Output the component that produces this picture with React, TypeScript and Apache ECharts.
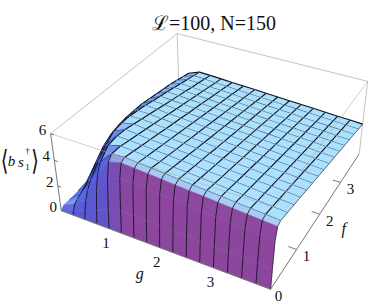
import React, { useEffect, useRef } from "react";
import * as echarts from "echarts";

const W = 382;
const H = 307;

const gVals = [0, 0.25, 0.5, 0.75, 1, 1.25, 1.5, 1.75, 2, 2.25, 2.5, 2.75, 3, 3.25, 3.5, 3.75, 4];
const fVals = [0, 0.03, 0.08, 0.15, 0.25, 0.5, 0.75, 1, 1.25, 1.5, 1.75, 2, 2.25, 2.5, 2.75, 3, 3.25, 3.5, 3.75, 4];
const meshF = [0.25, 0.5, 0.75, 1, 1.25, 1.5, 1.75, 2, 2.25, 2.5, 2.75, 3, 3.25, 3.5, 3.75];

// surface height, one row per fVals entry, one column per gVals entry
const zRows = [
  [0, 0, 0, 0, 0, 0, 0, 0, 0, 0, 0, 0, 0, 0, 0, 0, 0],
  [0.1, 0.3, 0.6, 1.0, 1.5, 1.72, 1.69, 1.67, 1.65, 1.62, 1.6, 1.57, 1.55, 1.52, 1.5, 1.48, 1.45],
  [0.25, 0.7, 1.3, 2.4, 3.6, 4.06, 4.0, 3.95, 3.89, 3.83, 3.78, 3.72, 3.66, 3.6, 3.55, 3.49, 3.43],
  [0.25, 0.85, 1.9, 3.5, 4.8, 5.05, 4.98, 4.91, 4.84, 4.76, 4.69, 4.63, 4.55, 4.48, 4.41, 4.34, 4.27],
  [0.25, 1.0, 2.4, 4.2, 5.15, 5.21, 5.13, 5.06, 4.99, 4.91, 4.84, 4.77, 4.69, 4.62, 4.55, 4.47, 4.4],
  [0.3, 1.5, 3.3, 4.9, 5.14, 5.07, 4.99, 4.92, 4.85, 4.78, 4.71, 4.64, 4.57, 4.49, 4.42, 4.35, 4.28],
  [0.4, 2.3, 4.0, 5.0, 4.99, 4.92, 4.85, 4.78, 4.71, 4.64, 4.57, 4.5, 4.43, 4.36, 4.29, 4.22, 4.15],
  [0.5, 3.0, 4.5, 4.95, 4.85, 4.78, 4.71, 4.64, 4.58, 4.51, 4.44, 4.37, 4.3, 4.23, 4.17, 4.1, 4.03],
  [0.6, 3.4, 4.6, 4.8, 4.71, 4.64, 4.57, 4.51, 4.44, 4.38, 4.31, 4.24, 4.18, 4.11, 4.04, 3.98, 3.91],
  [0.6, 3.6, 4.6, 4.65, 4.56, 4.49, 4.43, 4.36, 4.3, 4.23, 4.17, 4.1, 4.04, 3.97, 3.91, 3.85, 3.78],
  [0.6, 3.7, 4.5, 4.5, 4.42, 4.35, 4.29, 4.23, 4.16, 4.1, 4.04, 3.98, 3.91, 3.85, 3.79, 3.72, 3.66],
  [0.6, 3.7, 4.38, 4.34, 4.27, 4.21, 4.15, 4.09, 4.03, 3.97, 3.91, 3.85, 3.78, 3.72, 3.66, 3.6, 3.54],
  [0.6, 3.7, 4.23, 4.18, 4.12, 4.06, 4.01, 3.95, 3.89, 3.83, 3.77, 3.71, 3.65, 3.59, 3.53, 3.47, 3.41],
  [0.6, 3.6, 4.08, 4.04, 3.98, 3.93, 3.87, 3.81, 3.75, 3.69, 3.64, 3.58, 3.52, 3.46, 3.41, 3.35, 3.29],
  [0.6, 3.5, 3.95, 3.9, 3.84, 3.79, 3.73, 3.67, 3.62, 3.56, 3.51, 3.45, 3.39, 3.34, 3.28, 3.23, 3.17],
  [0.6, 3.4, 3.8, 3.75, 3.69, 3.64, 3.58, 3.53, 3.48, 3.42, 3.37, 3.31, 3.26, 3.2, 3.15, 3.09, 3.04],
  [0.6, 3.3, 3.65, 3.6, 3.55, 3.5, 3.45, 3.39, 3.34, 3.29, 3.24, 3.18, 3.13, 3.08, 3.03, 2.97, 2.92],
  [0.6, 3.15, 3.5, 3.46, 3.41, 3.36, 3.31, 3.26, 3.21, 3.16, 3.11, 3.06, 3.0, 2.95, 2.9, 2.85, 2.8],
  [0.6, 3.0, 3.35, 3.31, 3.26, 3.21, 3.16, 3.11, 3.06, 3.01, 2.96, 2.92, 2.87, 2.82, 2.77, 2.72, 2.67],
  [0.6, 2.85, 3.2, 3.17, 3.12, 3.07, 3.02, 2.98, 2.93, 2.88, 2.83, 2.79, 2.74, 2.69, 2.64, 2.6, 2.55],
];

const gTicks = [1, 2, 3];
const fTicks = [1, 2, 3];
const zTicks = [0, 2, 4, 6];
const G_MAX = 4;
const F_MAX = 4;
const Z_MAX = 6;

// calibration of the 3D box: [g, f, z, screen x, screen y]
const boxCalibration = [
  [0, 0, 0, 62, 210],
  [4, 0, 0, 270, 291],
  [4, 4, 0, 359, 153],
  [0, 0, 6, 50, 135],
  [0, 4, 6, 177, 33],
  [4, 4, 6, 368, 83],
  [4, 0, 6, 275, 205],
];

function solve(A: number[][], b: number[]) {
  const n = b.length;
  const M = A.map((r, i) => [...r, b[i]]);
  for (let c = 0; c < n; c++) {
    let p = c;
    for (let r = c + 1; r < n; r++) if (Math.abs(M[r][c]) > Math.abs(M[p][c])) p = r;
    [M[c], M[p]] = [M[p], M[c]];
    for (let r = 0; r < n; r++) {
      if (r === c) continue;
      const k = M[r][c] / M[c][c];
      for (let j = c; j <= n; j++) M[r][j] -= k * M[c][j];
    }
  }
  return M.map((r, i) => r[n] / r[i]);
}

function fitCamera() {
  const rows: number[][] = [];
  const rhs: number[] = [];
  for (const [g, f, z, u, v] of boxCalibration) {
    const X = g / G_MAX, Y = f / F_MAX, Z = z / Z_MAX;
    const a = u / 100, b = v / 100;
    rows.push([X, Y, Z, 1, 0, 0, 0, 0, -a * X, -a * Y, -a * Z]);
    rhs.push(a);
    rows.push([0, 0, 0, 0, X, Y, Z, 1, -b * X, -b * Y, -b * Z]);
    rhs.push(b);
  }
  const N = 11;
  const AtA = Array.from({ length: N }, (_, i) =>
    Array.from({ length: N }, (_, j) => rows.reduce((s, r) => s + r[i] * r[j], 0))
  );
  const Atb = Array.from({ length: N }, (_, i) => rows.reduce((s, r, k) => s + r[i] * rhs[k], 0));
  return solve(AtA, Atb);
}
const cam = fitCamera();

function project(g: number, f: number, z: number): [number, number] {
  const X = g / G_MAX, Y = f / F_MAX, Z = z / Z_MAX;
  const w = cam[8] * X + cam[9] * Y + cam[10] * Z + 1;
  return [
    (100 * (cam[0] * X + cam[1] * Y + cam[2] * Z + cam[3])) / w,
    (100 * (cam[4] * X + cam[5] * Y + cam[6] * Z + cam[7])) / w,
  ];
}

const TOP = [172, 224, 255];
const FRONT = [140, 70, 158];
const LEFT = [72, 92, 232];
// how far the front wall leans towards the blue side, per g column
const wallTint = [0.75, 0.75, 0.7, 0.6, 0.3, 0.05];

function shade(ig: number, jf: number) {
  const dg = (gVals[ig + 1] - gVals[ig]) / G_MAX;
  const df = (fVals[jf + 1] - fVals[jf]) / F_MAX;
  const zAt = (i: number, j: number) => (zRows[j][i] / Z_MAX) * 0.45;
  const zg = (zAt(ig + 1, jf) + zAt(ig + 1, jf + 1) - zAt(ig, jf) - zAt(ig, jf + 1)) / (2 * dg);
  const zf = (zAt(ig, jf + 1) + zAt(ig + 1, jf + 1) - zAt(ig, jf) - zAt(ig + 1, jf)) / (2 * df);
  const len = Math.hypot(zg, zf, 1);
  const top = 1 / len;
  const left = Math.max(0, zg / len);
  const front = Math.max(0, zf / len);
  const wTop = Math.pow(top, 3);
  const wFront = Math.max(0, front * front - 0.03);
  const wLeft = Math.max(0, left * left - 0.01) * 2;
  const sum = wTop + wFront + wLeft || 1;
  const t = wallTint[ig] ?? 0;
  const c = [0, 1, 2].map((k) => {
    const wall = FRONT[k] * (1 - t) + LEFT[k] * t;
    return Math.round((TOP[k] * wTop + wall * wFront + LEFT[k] * wLeft) / sum);
  });
  return `rgb(${c[0]},${c[1]},${c[2]})`;
}

const cells: number[][] = [];
for (let j = fVals.length - 2; j >= 0; j--) {
  for (let i = 0; i < gVals.length - 1; i++) cells.push([i, j]);
}

const isMeshF = (f: number) => meshF.includes(f);

export default function App() {
  const ref = useRef<HTMLDivElement>(null);
  useEffect(() => {
    document.body.style.margin = "0";
    const chart = echarts.init(ref.current!, undefined, { renderer: "svg" });
    const serif = "'Liberation Serif', 'DejaVu Serif', serif";

    const lineEl = (api: any, a: number[], b: number[], stroke: string, lineWidth = 1, opacity = 1) => {
      const p = api.coord(project(a[0], a[1], a[2]));
      const q = api.coord(project(b[0], b[1], b[2]));
      return {
        type: "line",
        shape: { x1: p[0], y1: p[1], x2: q[0], y2: q[1] },
        style: { stroke, lineWidth, opacity },
        silent: true,
      };
    };

    const backEdges = [
      [[0, 0, 6], [0, 4, 6]],
      [[0, 4, 6], [4, 4, 6]],
      [[0, 4, 0], [0, 4, 6]],
      [[4, 4, 0], [4, 4, 6]],
    ];
    const frontEdges = [
      [[0, 0, 6], [4, 0, 6]],
      [[4, 0, 6], [4, 4, 6]],
    ];
    const axisEdges = [
      [[0, 0, 0], [0, 0, 6]],
      [[0, 0, 0], [4, 0, 0]],
      [[4, 0, 0], [4, 4, 0]],
    ];

    const txt = (text: string, g: number, f: number, z: number, dx: number, dy: number, size = 15, italic = false) => {
      const p = project(g, f, z);
      return {
        type: "text",
        x: p[0] + dx,
        y: p[1] + dy,
        silent: true,
        style: {
          text,
          fill: "#111",
          font: `${italic ? "italic " : ""}${size}px ${serif}`,
          textAlign: "center",
          textVerticalAlign: "middle",
        },
      };
    };
    const lab = (text: string, x: number, y: number, font: string, scaleX = 1) => ({
      type: "text",
      x,
      y,
      scaleX,
      silent: true,
      style: { text, fill: "#111", font, textAlign: "center", textVerticalAlign: "middle" },
    });

    chart.setOption({
      animation: false,
      backgroundColor: "#fff",
      title: {
        text: "\u2112=100, N=150",
        left: 209,
        top: 8,
        textAlign: "center",
        textStyle: { fontFamily: serif, fontSize: 20, fontWeight: "normal", color: "#111" },
      },
      grid: { left: 0, right: 0, top: 0, bottom: 0 },
      xAxis: { type: "value", min: 0, max: W, show: false },
      yAxis: { type: "value", min: 0, max: H, inverse: true, show: false },
      series: [
        {
          type: "custom",
          coordinateSystem: "cartesian2d",
          z: 1,
          silent: true,
          data: backEdges.map((_, i) => [i, 0]),
          renderItem: (params: any, api: any) => {
            const e = backEdges[params.dataIndex];
            return lineEl(api, e[0], e[1], "#c4c4c4", 1);
          },
        },
        {
          type: "custom",
          coordinateSystem: "cartesian2d",
          z: 2,
          silent: true,
          data: cells,
          renderItem: (params: any, api: any) => {
            const [i, j] = cells[params.dataIndex];
            const pt = (a: number, b: number) => api.coord(project(gVals[a], fVals[b], zRows[b][a]));
            const A = pt(i, j), B = pt(i + 1, j), C = pt(i + 1, j + 1), D = pt(i, j + 1);
            const fill = shade(i, j);
            const children: any[] = [
              {
                type: "polygon",
                shape: { points: [A, B, C, D] },
                style: { fill, stroke: fill, lineWidth: 0.6 },
              },
            ];
            const ln = (p: number[], q: number[], w = 1.1) => ({
              type: "line",
              shape: { x1: p[0], y1: p[1], x2: q[0], y2: q[1] },
              style: { stroke: "#0c1118", lineWidth: w },
            });
            if (i > 0) children.push(ln(A, D, fVals[j] < 0.25 ? 0.85 : 1.1));
            if (i === gVals.length - 2) children.push(ln(B, C, 0.6));
            if (j === fVals.length - 2) children.push(ln(D, C));
            if (isMeshF(fVals[j])) children.push(ln(A, B));
            return { type: "group", children };
          },
        },
        {
          type: "custom",
          coordinateSystem: "cartesian2d",
          z: 3,
          silent: true,
          data: frontEdges.map((_, i) => [i, 0]),
          renderItem: (params: any, api: any) => {
            const e = frontEdges[params.dataIndex];
            return lineEl(api, e[0], e[1], "#aaa", 1, 0.55);
          },
        },
        {
          type: "custom",
          coordinateSystem: "cartesian2d",
          z: 4,
          silent: true,
          data: axisEdges.map((_, i) => [i, 0]),
          renderItem: (params: any, api: any) => {
            const e = axisEdges[params.dataIndex];
            return lineEl(api, e[0], e[1], "#777", 1);
          },
        },
        {
          type: "custom",
          coordinateSystem: "cartesian2d",
          z: 4,
          silent: true,
          data: fTicks.map((t) => [t, 0]),
          renderItem: (params: any, api: any) => {
            const t = fTicks[params.dataIndex];
            return lineEl(api, [4, t, 0], [3.85, t, 0], "#777", 1);
          },
        },
        {
          type: "custom",
          coordinateSystem: "cartesian2d",
          z: 4,
          silent: true,
          data: zTicks.map((t) => [t, 0]),
          renderItem: (params: any, api: any) => {
            const t = zTicks[params.dataIndex];
            return lineEl(api, [0, 0, t], [0.07, 0, t], "#777", 1);
          },
        },
      ],
      graphic: [
        ...zTicks.map((t) => txt(String(t), 0, 0, t, -8, -4)),
        ...gTicks.map((t) => txt(String(t), t, 0, 0, -3, 14)),
        txt("g", 2, 0, 0, -20, 26, 16, true),
        ...fTicks.map((t) => txt(String(t), 4, t, 0, 10, 7)),
        txt("0", 4, 0, 0, 8, 7),
        txt("f", 4, 2, 0, 24, 14, 16, true),
        lab("\u27E8", 4.5, 161, `28px 'DejaVu Sans'`, 0.7),
        lab("b", 11.5, 161, `italic 15px ${serif}`),
        lab("s", 21, 162, `italic 15px ${serif}`),
        lab("\u2020", 27.5, 151, `9px ${serif}`),
        lab("1", 27.5, 167, `9px ${serif}`),
        lab("\u27E9", 35, 161, `28px 'DejaVu Sans'`, 0.7),
      ],
    });
    return () => chart.dispose();
  }, []);
  return <div ref={ref} style={{ width: W, height: H }} />;
}
